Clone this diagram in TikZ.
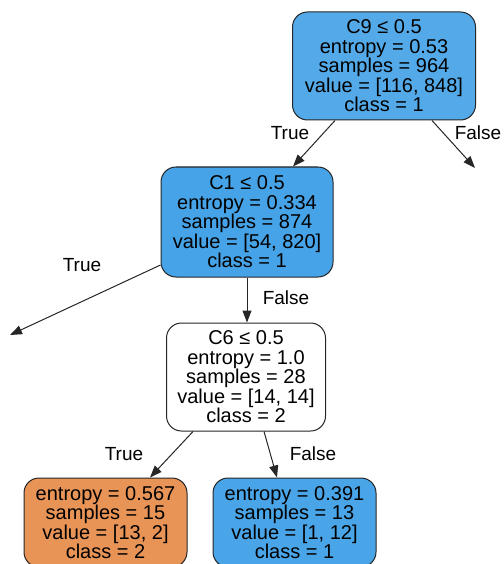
\documentclass[tikz,border=0pt]{standalone}
\usepackage{fontspec}
\setmainfont{Liberation Sans}
\usetikzlibrary{arrows.meta,calc}
\definecolor{rootblue}{HTML}{54AAE9}
\definecolor{splitblue}{HTML}{46A3E7}
\definecolor{leafblue}{HTML}{49A5E7}
\definecolor{leaforange}{HTML}{E99457}

\begin{document}
\begin{tikzpicture}[x=1pt,y=-1pt,
    box/.style={draw=black!85, line width=1pt, rounded corners=15pt, align=center,
        font=\fontsize{20}{19.5}\selectfont, inner sep=0pt},
    edge/.style={draw=black!85, line width=1pt, -{Triangle[length=12pt,width=9pt]}},
    lbl/.style={font=\fontsize{19}{19}\selectfont, inner sep=0pt}]

    \useasboundingbox (0,0) rectangle (503,564);

    \node[box, fill=rootblue, minimum width=183pt, minimum height=108pt] (root) at (384,66)
        {C9 ≤ 0.5\\entropy = 0.53\\samples = 964\\value = [116, 848]\\class = 1};
    \node[box, fill=splitblue, minimum width=172pt, minimum height=110pt] (c1) at (247,222)
        {C1 ≤ 0.5\\entropy = 0.334\\samples = 874\\value = [54, 820]\\class = 1};
    \node[box, fill=white, minimum width=159pt, minimum height=108pt] (c6) at (246,377)
        {C6 ≤ 0.5\\entropy = 1.0\\samples = 28\\value = [14, 14]\\class = 2};
    \node[box, fill=leaforange, minimum width=163pt, minimum height=89pt] (leftleaf) at (105.5,522.5)
        {entropy = 0.567\\samples = 15\\value = [13, 2]\\class = 2};
    \node[box, fill=leafblue, minimum width=163pt, minimum height=89pt] (rightleaf) at (294.5,522.5)
        {entropy = 0.391\\samples = 13\\value = [1, 12]\\class = 1};

    \coordinate (rootfalse) at (475,168);
    \coordinate (c1true) at (10,335);

    \draw[edge] ($(root.south)+(-49,0)$) -- ($(c1.north)+(46,0)$);
    \draw[edge] ($(root.south)+(48,0)$) -- (rootfalse);
    \draw[edge] ($(c1.west)+(0,43)$) -- (c1true);
    \draw[edge] (c1.south) -- (c1.south |- c6.north);
    \draw[edge] ($(c6.south)+(-53,0)$) -- ($(leftleaf.north)+(44.5,0)$);
    \draw[edge] ($(c6.south)+(18,0)$) -- ($(rightleaf.north)+(-17.5,0)$);

    \node[lbl] (roottruelbl) at (290,133) {True};
    \node[lbl] (rootfalselbl) at (478,133) {False};
    \node[lbl] (c1truelbl) at (82,265) {True};
    \node[lbl] (c1falselbl) at (286,298) {False};
    \node[lbl] (c6truelbl) at (124,454) {True};
    \node[lbl] (c6falselbl) at (313,454) {False};
\end{tikzpicture}
\end{document}
